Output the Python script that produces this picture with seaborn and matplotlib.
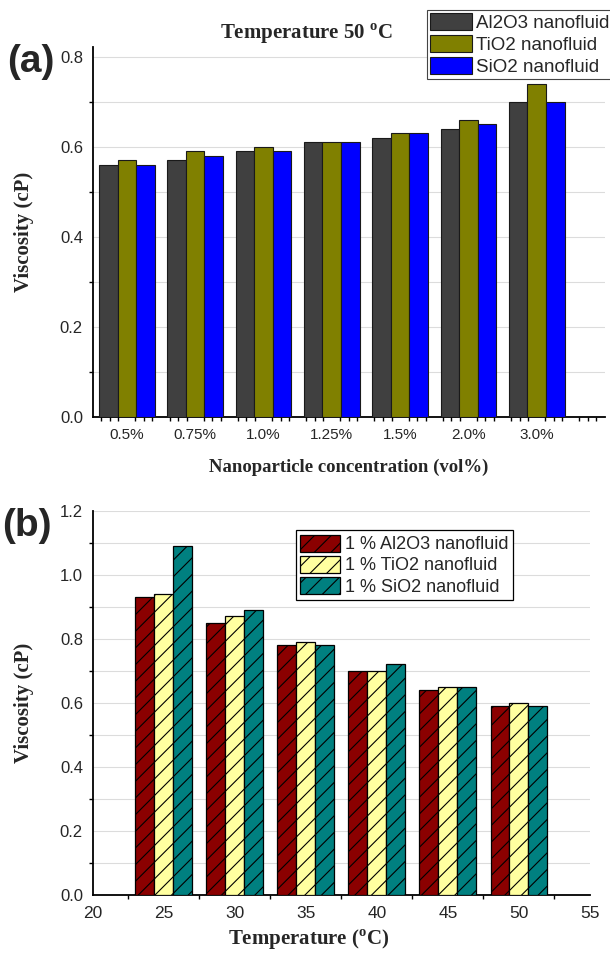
import numpy as np
import pandas as pd
import matplotlib
matplotlib.use("Agg")
import matplotlib.pyplot as plt
import seaborn as sns
from matplotlib.patches import Patch
from matplotlib.ticker import FixedLocator, FixedFormatter, MultipleLocator

# ---------------- data ----------------
conc_labels = ['0.5%', '0.75%', '1.0%', '1.25%', '1.5%', '2.0%', '3.0%']
series_a = ['Al2O3 nanofluid', 'TiO2 nanofluid', 'SiO2 nanofluid']
al2o3_a = [0.56, 0.57, 0.59, 0.61, 0.62, 0.64, 0.70]
tio2_a = [0.57, 0.59, 0.60, 0.61, 0.63, 0.66, 0.74]
sio2_a = [0.56, 0.58, 0.59, 0.61, 0.63, 0.65, 0.70]
colors_a = ['#404040', '#808000', '#0000ff']

temps = [25, 30, 35, 40, 45, 50]
series_b = ['1 % Al2O3 nanofluid', '1 % TiO2 nanofluid', '1 % SiO2 nanofluid']
al2o3_b = [0.93, 0.85, 0.78, 0.70, 0.64, 0.59]
tio2_b = [0.94, 0.87, 0.79, 0.70, 0.65, 0.60]
sio2_b = [1.09, 0.89, 0.78, 0.72, 0.65, 0.59]
colors_b = ['#8b0000', '#ffffa0', '#008080']

yticks_a = [0.0, 0.2, 0.4, 0.6, 0.8]
yticks_b = [0.0, 0.2, 0.4, 0.6, 0.8, 1.0, 1.2]
xticks_b = [20, 25, 30, 35, 40, 45, 50, 55]

df_a = pd.DataFrame({
    'conc': conc_labels * 3,
    'visc': al2o3_a + tio2_a + sio2_a,
    'fluid': [s for s in series_a for _ in conc_labels],
})
df_b = pd.DataFrame({
    'temp': temps * 3,
    'visc': al2o3_b + tio2_b + sio2_b,
    'fluid': [s for s in series_b for _ in temps],
})

# ---------------- style ----------------
sns.set_style("white")
plt.rcParams['font.family'] = ['Liberation Sans', 'DejaVu Sans']
plt.rcParams['mathtext.fontset'] = 'custom'
plt.rcParams['mathtext.rm'] = 'Liberation Serif'
plt.rcParams['mathtext.bf'] = 'Liberation Serif:bold'
plt.rcParams['hatch.linewidth'] = 0.8

serif_bold = dict(family='Liberation Serif', weight='bold')

W, H = 610, 955
fig = plt.figure(figsize=(W / 100, H / 100), dpi=100)

def fx(px):
    return px / W

def fy(py):
    return 1 - py / H

# axes (a)
a_l, a_r, a_t, a_b = 92.7, 605.0, 46.7, 416.7
ax1 = fig.add_axes([fx(a_l), fy(a_b), fx(a_r) - fx(a_l), fy(a_t) - fy(a_b)])
# axes (b)
b_l, b_r, b_t, b_b = 92.7, 590.0, 510.5, 894.5
ax2 = fig.add_axes([fx(b_l), fy(b_b), fx(b_r) - fx(b_l), fy(b_t) - fy(b_b)])

# ---------------- panel (a) ----------------
sns.barplot(data=df_a, x='conc', y='visc', hue='fluid', order=conc_labels,
            hue_order=series_a, palette=colors_a, saturation=1, width=0.815,
            gap=0, edgecolor='#1a1a1a', linewidth=0.8, legend=False, ax=ax1,
            zorder=3)
ax1.set_xlim(-0.5, 7.0)
ax1.set_ylim(0, 0.822)
major_x = list(np.arange(-0.5, 7.01, 0.5))
major_lab = [conc_labels[int(round(v))] if (abs(v - round(v)) < 1e-9 and 0 <= int(round(v)) < len(conc_labels)) else '' for v in major_x]
ax1.xaxis.set_major_locator(FixedLocator(major_x))
ax1.xaxis.set_major_formatter(FixedFormatter(major_lab))
ax1.xaxis.set_minor_locator(MultipleLocator(0.125))
ax1.yaxis.set_major_locator(FixedLocator(yticks_a))
ax1.yaxis.set_minor_locator(MultipleLocator(0.1))
ax1.set_yticklabels([f'{v:.1f}' for v in yticks_a])

# ---------------- panel (b) ----------------
sns.barplot(data=df_b, x='temp', y='visc', hue='fluid', native_scale=True,
            hue_order=series_b, palette=colors_b, saturation=1, width=0.8,
            gap=0, edgecolor='black', linewidth=0.9, legend=False, ax=ax2,
            zorder=3)
for bar in ax2.patches:
    bar.set_hatch('//')
ax2.set_xlim(20, 55)
ax2.set_ylim(0, 1.2)
ax2.xaxis.set_major_locator(FixedLocator(xticks_b))
ax2.set_xticklabels([str(v) for v in xticks_b])
ax2.xaxis.set_minor_locator(MultipleLocator(2.5))
ax2.yaxis.set_major_locator(FixedLocator(yticks_b))
ax2.yaxis.set_minor_locator(MultipleLocator(0.1))
ax2.set_yticklabels([f'{v:.1f}' for v in yticks_b])

# ---------------- common axis styling ----------------
for ax in (ax1, ax2):
    ax.set_axisbelow(True)
    ax.yaxis.grid(True, which='both', color='#dcdcdc', linewidth=0.8, zorder=0)
    ax.xaxis.grid(False, which='both')
    for s in ('top', 'right'):
        ax.spines[s].set_visible(False)
    for s in ('left', 'bottom'):
        ax.spines[s].set_color('black')
        ax.spines[s].set_linewidth(1.3)
    ax.tick_params(which='major', direction='out', length=5, width=1.1,
                   color='black', pad=3)
    ax.tick_params(which='minor', direction='out', length=3, width=1.0,
                   color='black')
    ax.tick_params(axis='y', which='major', length=4, labelsize=12)
    ax.tick_params(axis='y', which='minor', left=True)
    ax.tick_params(axis='x', which='minor', bottom=True)

ax1.tick_params(axis='x', which='major', labelsize=11)
ax2.tick_params(axis='x', which='major', labelsize=12.5, length=5.5)

# labels
ax1.set_ylabel('Viscosity (cP)', fontsize=15, **serif_bold)
ax1.yaxis.set_label_coords((34 - a_l) / (a_r - a_l), 0.5)
ax1.set_xlabel('Nanoparticle concentration (vol%)', fontsize=13.5, **serif_bold)
ax1.xaxis.label.set_va('center')
ax1.xaxis.set_label_coords(0.5, -0.136)

ax2.set_ylabel('Viscosity (cP)', fontsize=15, **serif_bold)
ax2.yaxis.set_label_coords((34 - b_l) / (b_r - b_l), 0.5)
ax2.set_xlabel(r'Temperature ($^{\mathbf{o}}$C)', fontsize=15, **serif_bold)
ax2.xaxis.label.set_va('center')
ax2.xaxis.set_label_coords((309 - b_l) / (b_r - b_l), -0.118)

fig.text(fx(307), fy(34), r'Temperature 50 $^{\mathbf{o}}$C', fontsize=15,
         ha='center', va='center', **serif_bold)
fig.text(fx(31), fy(62), '(a)', fontsize=28, weight='bold', ha='center', va='center')
fig.text(fx(27), fy(526), '(b)', fontsize=28, weight='bold', ha='center', va='center')

# legends
h_a = [Patch(facecolor=c, edgecolor='#1a1a1a', linewidth=0.8, label=l)
       for c, l in zip(colors_a, series_a)]
leg1 = ax1.legend(handles=h_a, loc='upper left', bbox_to_anchor=(fx(426.7), fy(10)),
                  bbox_transform=fig.transFigure, fontsize=13.5, handlelength=2.25,
                  handleheight=1.07, labelspacing=0.15, handletextpad=0.25,
                  borderpad=0.15, borderaxespad=0, frameon=True, fancybox=False,
                  framealpha=1, edgecolor='#444444')
leg1.get_frame().set_linewidth(0.8)

h_b = [Patch(facecolor=c, edgecolor='black', linewidth=0.9, hatch='//', label=l)
       for c, l in zip(colors_b, series_b)]
leg2 = ax2.legend(handles=h_b, loc='upper right', bbox_to_anchor=(fx(512.7), fy(530)),
                  bbox_transform=fig.transFigure, fontsize=13, handlelength=2.2,
                  handleheight=1.1, labelspacing=0.13, handletextpad=0.25,
                  borderpad=0.25, borderaxespad=0, frameon=True, fancybox=False,
                  framealpha=1, edgecolor='black')
leg2.get_frame().set_linewidth(0.9)

fig.savefig('out.png', dpi=100)
